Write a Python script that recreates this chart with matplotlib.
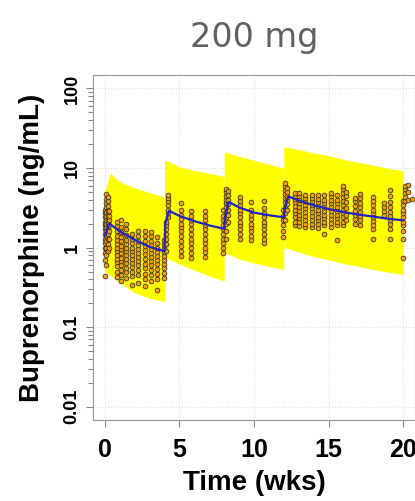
import matplotlib
matplotlib.use("Agg")
import matplotlib.pyplot as plt
import numpy as np
from matplotlib.ticker import FixedLocator, NullFormatter

# 90% prediction interval per dosing interval (weeks, ng/mL)
pi1_t = [0.0, 0.35, 1, 2, 3, 4]
pi1_hi = [5.0, 8.6, 6.7, 5.6, 4.9, 4.3]
pi1_lo = [0.5, 0.45, 0.36, 0.27, 0.23, 0.21]
pi2_t = [4.0, 4.3, 5, 6, 7, 8]
pi2_hi = [12.5, 12.0, 10.3, 9.3, 8.6, 7.8]
pi2_lo = [0.75, 0.72, 0.62, 0.52, 0.44, 0.38]
pi3_t = [8.0, 8.3, 9, 10, 11, 12]
pi3_hi = [15.8, 15.3, 14.0, 12.5, 11.1, 10.0]
pi3_lo = [0.85, 0.82, 0.72, 0.64, 0.58, 0.53]
pi4_t = [12.0, 13, 14, 15, 16, 17, 18, 19, 20]
pi4_hi = [18.5, 17.0, 15.5, 14.3, 12.8, 11.8, 10.8, 9.9, 9.2]
pi4_lo = [1.0, 0.88, 0.77, 0.7, 0.63, 0.58, 0.53, 0.49, 0.46]

# median prediction
med_t = [0, 0.3, 1, 2, 3, 4, 4.05, 4.3, 5, 6, 7, 8, 8.05, 8.3, 9, 10, 11, 12,
         12.05, 12.3, 13, 14, 15, 16, 17, 18, 19, 20]
med_c = [1.4, 2.0, 1.6, 1.25, 1.02, 0.9, 2.0, 2.9, 2.5, 2.15, 1.9, 1.72, 2.3, 3.75,
         3.2, 2.75, 2.55, 2.4, 3.0, 4.4, 3.9, 3.4, 3.05, 2.8, 2.6, 2.45, 2.3, 2.2]

# observed concentrations by sampling time
obs_t = [0.02, 0.1, 0.18, 0.28, 0.78, 1.1, 1.4, 1.8, 2.2, 2.7, 3.1, 3.5, 3.96,
         4.08, 4.2, 5.1, 5.8, 6.7, 7.94, 8.1, 8.25, 9.06, 9.8, 10.67, 11.96,
         12.08, 12.2, 12.75, 13.04, 13.4, 13.87, 14.27, 14.7, 15.17, 15.55,
         16.0, 16.2, 16.8, 17.1, 17.97, 18.7, 19.1, 19.98, 20.15, 20.35, 20.6]
obs_c = [
    [0.44, 0.7, 0.85, 1.0, 1.15, 1.3, 1.5, 1.7, 1.9, 2.1, 2.4, 2.7, 3.0],
    [0.6, 0.8, 1.0, 1.2, 1.4, 1.6, 1.8, 2.0, 2.2, 2.5, 2.8, 3.2, 3.6, 4.1, 4.7],
    [0.9, 1.1, 1.3, 1.5, 1.7, 1.9, 2.1, 2.3, 2.6, 2.9, 3.3, 3.8, 4.3],
    [1.0, 1.3, 1.6, 1.9, 2.2, 2.5, 2.9],
    [0.43, 0.5, 0.58, 0.65, 0.72, 0.8, 0.9, 1.0, 1.1, 1.25, 1.4, 1.6, 1.85, 2.1],
    [0.38, 0.45, 0.52, 0.6, 0.68, 0.75, 0.85, 0.95, 1.05, 1.2, 1.35, 1.55, 1.8, 2.2],
    [0.42, 0.5, 0.56, 0.64, 0.72, 0.8, 0.9, 1.0, 1.1, 1.25, 1.45, 1.7, 1.95],
    [0.34, 0.44, 0.5, 0.57, 0.64, 0.72, 0.8, 0.9, 1.0, 1.15, 1.3, 1.5],
    [0.36, 0.45, 0.52, 0.6, 0.68, 0.76, 0.85, 0.95, 1.08, 1.22, 1.4, 1.6],
    [0.33, 0.4, 0.47, 0.55, 0.63, 0.72, 0.82, 0.92, 1.05, 1.2, 1.4, 1.6],
    [0.38, 0.45, 0.52, 0.6, 0.68, 0.76, 0.85, 0.95, 1.08, 1.22, 1.4, 1.55],
    [0.29, 0.4, 0.47, 0.54, 0.62, 0.7, 0.78, 0.88, 1.0, 1.15, 1.35],
    [0.42, 0.48, 0.55, 0.62, 0.7, 0.78, 0.88, 0.98, 1.1, 1.25],
    [0.9, 1.1, 1.3, 1.5, 1.7, 1.9, 2.1],
    [2.4, 2.7, 3.0, 3.4, 3.8, 4.2, 4.6],
    [0.78, 0.9, 1.05, 1.2, 1.4, 1.6, 1.8, 2.0, 2.3, 2.6, 3.0, 3.6],
    [0.73, 0.85, 1.0, 1.15, 1.3, 1.5, 1.7, 1.95, 2.2, 2.5, 2.9],
    [0.76, 0.88, 1.0, 1.15, 1.3, 1.5, 1.7, 1.9, 2.2, 2.5, 2.85],
    [0.85, 1.0, 1.15, 1.3, 1.5, 1.7, 1.9, 2.2, 2.5, 2.95],
    [1.3, 1.6, 2.0, 2.4, 2.8, 3.2, 3.6, 4.0, 4.5, 5.0, 5.5],
    [2.1, 2.6, 3.0, 3.5, 4.0, 4.6, 5.2],
    [1.3, 1.5, 1.7, 1.9, 2.1, 2.4, 2.7, 3.0, 3.4, 3.8, 4.3],
    [1.23, 1.4, 1.6, 1.8, 2.0, 2.3, 2.6, 3.0, 3.75],
    [1.13, 1.3, 1.5, 1.7, 1.9, 2.1, 2.4, 2.7, 3.1, 3.9],
    [1.36, 1.6, 1.9, 2.2, 2.5, 2.95],
    [2.2, 2.7, 3.2, 3.7, 4.2, 4.7, 5.3, 5.9, 6.5],
    [3.0, 3.5, 4.0, 4.5, 5.0, 5.6],
    [1.9, 2.1, 2.4, 2.7, 3.0, 3.3, 3.7, 4.1, 4.5, 4.9],
    [1.85, 2.1, 2.35, 2.6, 2.9, 3.2, 3.6, 4.0, 4.4, 4.8],
    [1.8, 2.0, 2.25, 2.5, 2.8, 3.1, 3.4, 3.8, 4.2, 4.6],
    [1.8, 2.0, 2.25, 2.5, 2.8, 3.1, 3.4, 3.8, 4.2, 4.6],
    [1.75, 1.95, 2.2, 2.45, 2.7, 3.0, 3.35, 3.7, 4.1, 4.6],
    [1.5, 1.9, 2.1, 2.35, 2.6, 2.9, 3.2, 3.6, 4.0, 4.6],
    [1.8, 2.05, 2.3, 2.6, 2.9, 3.2, 3.6, 4.0, 4.4, 4.9],
    [1.23, 1.9, 2.1, 2.35, 2.6, 2.9, 3.2, 3.6, 4.0, 4.6],
    [1.9, 2.1, 2.4, 2.7, 3.0, 3.4, 3.8, 4.3, 4.8, 5.4, 6.0],
    [2.2, 2.6, 3.1, 3.7, 4.4, 5.0],
    [2.0, 2.3, 2.6, 2.9, 3.3, 3.8, 4.2],
    [1.9, 2.2, 2.5, 2.8, 3.2, 3.6, 4.2, 4.7],
    [1.3, 1.7, 1.9, 2.15, 2.4, 2.7, 3.0, 3.4, 3.8, 4.3],
    [2.6, 2.9, 3.2, 3.6],
    [1.27, 1.7, 1.95, 2.2, 2.5, 2.8, 3.2, 3.7, 4.4, 5.3],
    [0.75, 1.3, 1.6, 1.9, 2.1, 2.4, 2.7, 3.0, 3.4, 3.8],
    [3.9, 4.3, 4.8, 5.4, 6.0],
    [4.0, 5.0, 6.2],
    [4.1],
]

xticks = [0, 5, 10, 15, 20]
yticks = [0.01, 0.1, 1, 10, 100]
ytick_labels = ["0.01", "0.1", "1", "10", "100"]

fig = plt.figure(figsize=(4.15, 5.01), dpi=100)
ax = fig.add_axes([0.224, 0.1617, 0.776, 0.6883])

for t, hi, lo in [(pi1_t, pi1_hi, pi1_lo), (pi2_t, pi2_hi, pi2_lo),
                  (pi3_t, pi3_hi, pi3_lo), (pi4_t, pi4_hi, pi4_lo)]:
    ax.fill_between(t, lo, hi, color="#FFFF00", lw=0, zorder=1)

xs = np.concatenate([[t] * len(c) for t, c in zip(obs_t, obs_c)])
ys = np.concatenate(obs_c)
ax.scatter(xs, ys, s=12, facecolor="#F0A000", edgecolor="#202020", linewidths=0.5, zorder=2)

ax.plot(med_t, med_c, color="#2222CC", lw=1.6, zorder=3)

ax.set_yscale("log")
ax.set_xlim(-0.8, 20.8)
ax.set_ylim(10 ** -2.167, 10 ** 2.167)

ax.set_xticks(xticks)
ax.set_yticks(yticks)
ax.set_yticklabels(ytick_labels, rotation=90, va="center")
minors = [m * 10.0 ** e for e in range(-2, 2) for m in range(2, 10)]
ax.yaxis.set_minor_locator(FixedLocator(minors))
ax.yaxis.set_minor_formatter(NullFormatter())

for lab in ax.get_xticklabels():
    lab.set_fontfamily("Liberation Sans")
    lab.set_fontweight("bold")
    lab.set_fontsize(18)
for lab in ax.get_yticklabels():
    lab.set_fontfamily("Liberation Sans")
    lab.set_fontweight("bold")
    lab.set_fontsize(13)

ax.tick_params(axis="x", which="major", length=5, width=0.8, color="#888888", pad=8)
ax.tick_params(axis="y", which="major", length=5, width=0.8, color="#888888", pad=4)
ax.tick_params(axis="y", which="minor", length=3.5, width=0.8, color="#888888")
for s in ax.spines.values():
    s.set_color("#999999")
    s.set_linewidth(0.8)

ax.grid(True, which="major", color="#DDDDDD", linestyle=":", lw=0.8)
ax.set_axisbelow(True)

ax.set_xlabel("Time (wks)", fontfamily="Liberation Sans", fontweight="bold", fontsize=20, labelpad=6)
ax.set_ylabel("Buprenorphine (ng/mL)", fontfamily="Liberation Sans", fontweight="bold", fontsize=20, labelpad=13)

fig.text(0.612, 0.926, "200 mg", fontfamily="DejaVu Sans", fontsize=24, color="#606060",
         ha="center", va="center")

fig.savefig("out.png", dpi=100)
